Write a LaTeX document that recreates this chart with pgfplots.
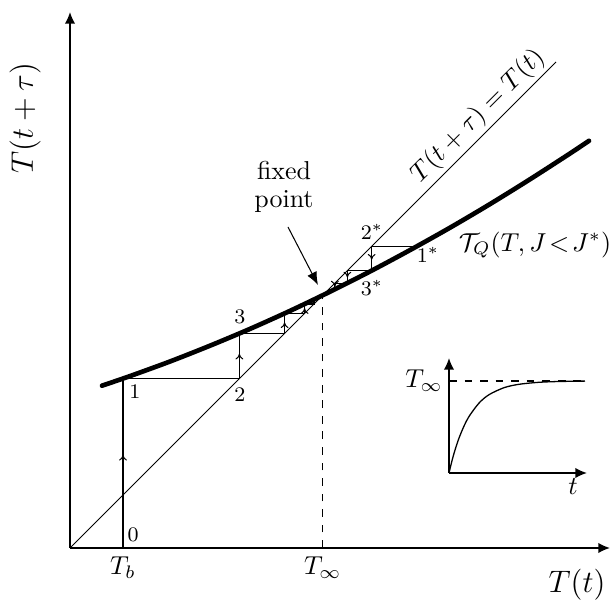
\documentclass[border=0pt]{standalone}
\usepackage{pgfplots}
\pgfplotsset{compat=1.18}
\usetikzlibrary{arrows.meta,decorations.markings}

\tikzset{
  midarrow/.style={postaction={decorate},
    decoration={markings, mark=at position 0.55 with {\arrow{To[length=2.2pt,width=3pt]}}}},
}

\begin{document}
\begin{tikzpicture}
\begin{axis}[
  x=0.386pt, y=0.386pt,
  xmin=0, xmax=540, ymin=0, ymax=536,
  axis lines=left,
  axis line style={semithick, -{Latex[length=4.5pt,width=4pt]}},
  xtick=\empty, ytick=\empty,
  clip=false,
]
% frame of the page
\coordinate (bl) at (axis cs:-70,-62);
\coordinate (tr) at (axis cs:546,548);

% identity line T(t+tau) = T(t)
\addplot[black, thin] coordinates {(0,0) (486,486)};

% map T_Q(T, J<J*)
\addplot[black, line width=1.8pt, line cap=round, smooth] coordinates {
  (32,162.3) (60,171.9) (100,186.5) (140,202.3) (180,219.1) (220,237.1)
  (260,256.3) (300,276.5) (340,297.9) (380,320.3) (420,343.9) (460,368.7)
  (500,394.5) (519,407.2)};

% fixed point
\addplot[black, thin, dashed] coordinates {(252.7,0) (252.7,252.7)};

% cobweb from T_b (upward)
\addplot[black, thin, midarrow] coordinates {(53,0) (53,169.4)};
\addplot[black, thin] coordinates {(53,169.4) (169.4,169.4)};
\addplot[black, thin, midarrow] coordinates {(169.4,169.4) (169.4,214.6)};
\addplot[black, thin] coordinates {(169.4,214.6) (214.6,214.6)};
\addplot[black, thin, midarrow] coordinates {(214.6,214.6) (214.6,234.6)};
\addplot[black, thin] coordinates {(214.6,234.6) (234.6,234.6)};
\addplot[black, thin, midarrow] coordinates {(234.6,234.6) (234.6,244.0)};
\addplot[black, thin] coordinates {(234.6,244.0) (244.0,244.0) (244.0,248.4) (248.4,248.4) (248.4,250.6)};

% cobweb from above (downward)
\addplot[black, thin] coordinates {(347,301.7) (301.7,301.7)};
\addplot[black, thin, midarrow] coordinates {(301.7,301.7) (301.7,277.4)};
\addplot[black, thin] coordinates {(301.7,277.4) (277.4,277.4)};
\addplot[black, thin, midarrow] coordinates {(277.4,277.4) (277.4,264.9)};
\addplot[black, thin] coordinates {(277.4,264.9) (264.9,264.9)};
\addplot[black, thin, midarrow] coordinates {(264.9,264.9) (264.9,258.7)};
\addplot[black, thin] coordinates {(264.9,258.7) (258.7,258.7) (258.7,255.6)};

% iterate labels
\node[anchor=west, font=\footnotesize, inner sep=0pt] at (axis cs:57,13) {0};
\node[font=\footnotesize] at (axis cs:65,156) {1};
\node[font=\footnotesize] at (axis cs:170,153) {2};
\node[font=\footnotesize] at (axis cs:170,231) {3};
\node[font=\footnotesize] at (axis cs:358,293) {$1^{*}$};
\node[font=\footnotesize] at (axis cs:302,316) {$2^{*}$};
\node[font=\footnotesize] at (axis cs:302,260) {$3^{*}$};

% axis labels
\node at (axis cs:53,-20) {$T_b$};
\node at (axis cs:252.7,-20) {$T_\infty$};
\node[font=\large] at (axis cs:507,-37) {$T(t)$};
\node[font=\large, rotate=90] at (axis cs:-45,430) {$T(t+\tau)$};
\node[rotate=45] at (axis cs:408,432) {$T(t+\tau)=T(t)$};
\node at (axis cs:465,303) {$\mathcal{T}_Q(T, J\!<\!J^{*})$};

% fixed point annotation
\node[align=center, inner sep=0pt] at (axis cs:214,361) {fixed\\[-1pt]point};
\draw[-{Latex[length=5pt,width=4pt]}, thin] (axis cs:218,321) -- (axis cs:248,263);

% inset: relaxation toward T_infinity
\draw[semithick, -{Latex[length=4.5pt,width=4pt]}] (axis cs:379,75) -- (axis cs:379,190);
\draw[semithick, -{Latex[length=4.5pt,width=4pt]}] (axis cs:379,75) -- (axis cs:517,75);
\addplot[black, thin, dashed] coordinates {(379,167) (517,167)};
\addplot[black, line width=0.5pt, smooth] coordinates {
  (379,75) (382,87.3) (385,97.9) (389,109.9) (394,121.9) (399,131.5)
  (409,144.9) (419,153.3) (434,160.3) (449,163.7) (469,165.7)
  (489,166.5) (515,166.9)};
\node at (axis cs:354,167) {$T_\infty$};
\node at (axis cs:503,61) {$t$};
\end{axis}
\pgfresetboundingbox
\path[use as bounding box] (bl) rectangle (tr);
\end{tikzpicture}
\end{document}
